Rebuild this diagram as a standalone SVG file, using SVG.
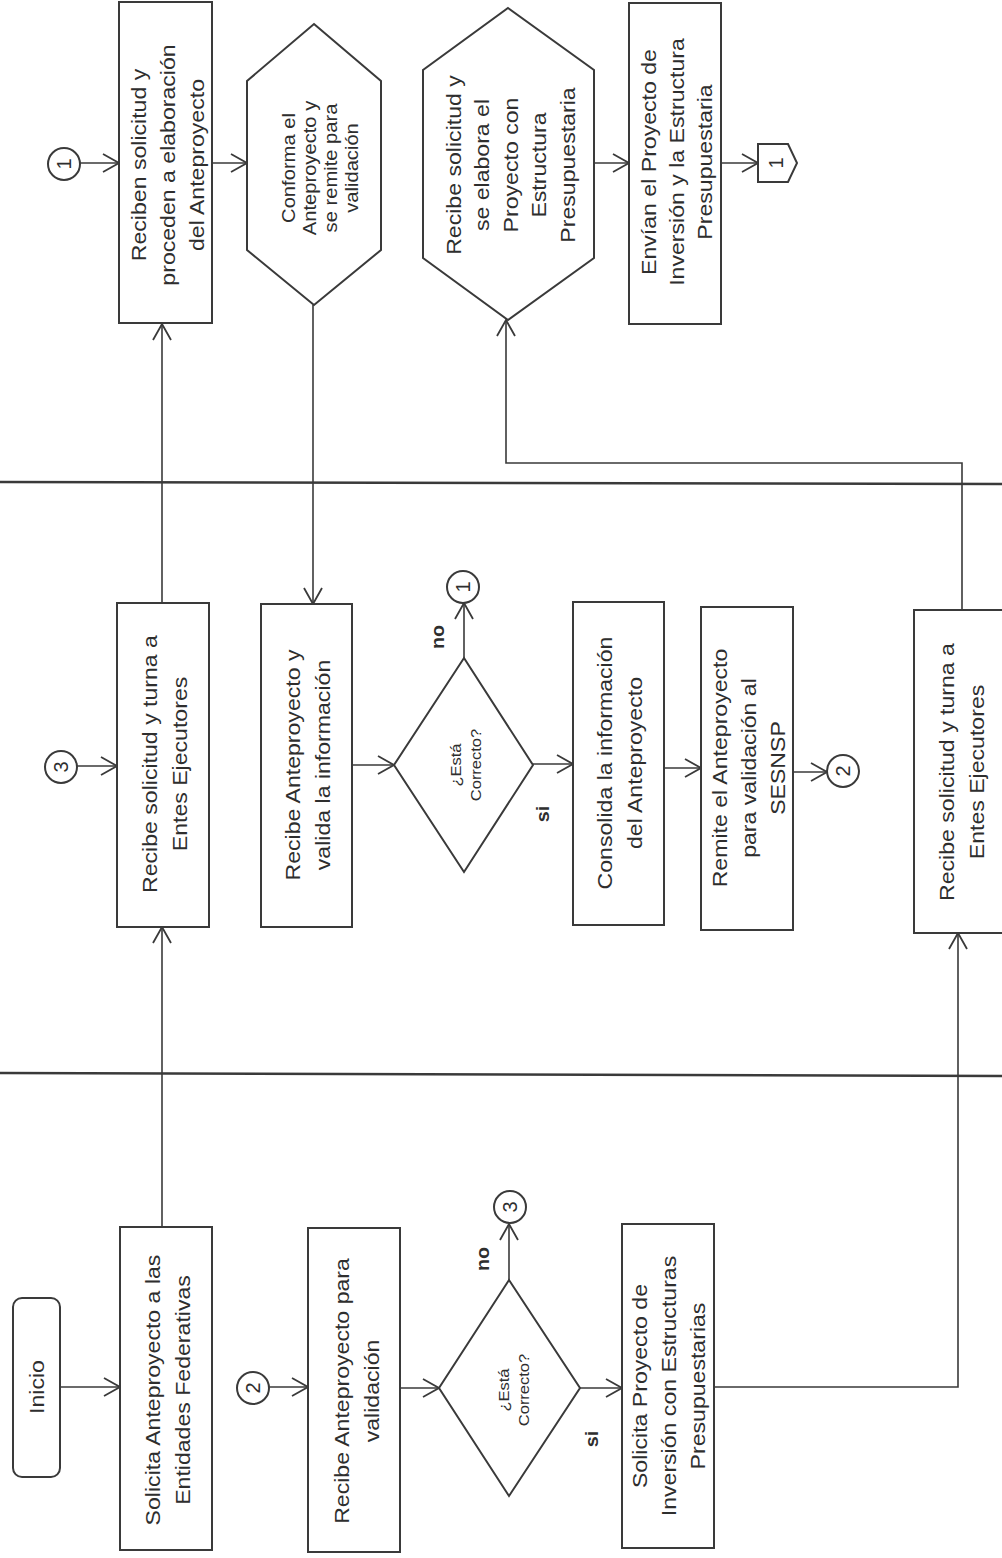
<svg xmlns="http://www.w3.org/2000/svg" width="1002" height="1558" viewBox="0 0 1002 1558">
<defs>
<style>
.bg{fill:#ffffff}
.box{fill:#ffffff;stroke:#3a3a3a;stroke-width:2}
.lane{stroke:#3a3a3a;stroke-width:2.5;fill:none}
.con{stroke:#3a3a3a;stroke-width:1.6;fill:none;marker-end:url(#arr)}
.t{font-family:"Liberation Sans",Arial,sans-serif;font-size:21px;fill:#2e2e2e;text-anchor:middle;dominant-baseline:central}
.s{font-family:"Liberation Sans",Arial,sans-serif;font-size:15px;fill:#2e2e2e;text-anchor:middle;dominant-baseline:central}
.h{font-family:"Liberation Sans",Arial,sans-serif;font-size:18px;fill:#2e2e2e;text-anchor:middle;dominant-baseline:central}
.b{font-family:"Liberation Sans",Arial,sans-serif;font-size:18px;font-weight:bold;fill:#2e2e2e;text-anchor:middle;dominant-baseline:central}
.n{font-family:"Liberation Sans",Arial,sans-serif;font-size:20px;fill:#2e2e2e;text-anchor:middle;dominant-baseline:central}
</style>
<marker id="arr" viewBox="0 0 18 20" refX="17" refY="10" markerWidth="18" markerHeight="20" markerUnits="userSpaceOnUse" orient="auto">
<path d="M1,1 L17,10 L1,19" fill="none" stroke="#3a3a3a" stroke-width="1.8"/>
</marker>
</defs>
<rect class="bg" x="0" y="0" width="1002" height="1558"/>
<g id="lanes">
<line class="lane" x1="0" y1="482" x2="1002" y2="484"/>
<line class="lane" x1="0" y1="1073" x2="1002" y2="1076"/>
</g>
<g id="connectors">
<path class="con" d="M60,1387 L120,1387"/>
<path class="con" d="M162,1227 L162,927"/>
<path class="con" d="M162,603 L162,324"/>
<path class="con" d="M80,163 L119,163"/>
<path class="con" d="M212,163 L247,163"/>
<path class="con" d="M313,305 L313,604"/>
<path class="con" d="M77,766 L117,766"/>
<path class="con" d="M352,765 L394,765"/>
<path class="con" d="M464,658 L464,603"/>
<path class="con" d="M533,764 L573,764"/>
<path class="con" d="M664,768 L701,768"/>
<path class="con" d="M793,772 L827,772"/>
<path class="con" d="M962,610 L962,463 L506,463 L506,320"/>
<path class="con" d="M594,163 L629,163"/>
<path class="con" d="M721,163 L758,163"/>
<path class="con" d="M269,1387 L308,1387"/>
<path class="con" d="M400,1388 L439,1388"/>
<path class="con" d="M509,1280 L509,1224"/>
<path class="con" d="M580,1388 L622,1388"/>
<path class="con" d="M714,1387 L958,1387 L958,933"/>
</g>
<g id="inicio">
<rect class="box" x="13" y="1298" width="47" height="179" rx="9"/>
<text class="t" transform="translate(37,1387) rotate(-90) scale(1.1,1)">Inicio</text>
</g>
<g id="solicitaAnteproyecto">
<rect class="box" x="120" y="1227" width="92" height="323"/>
<text class="t" transform="translate(167,1390) rotate(-90) scale(1.1,1)"><tspan x="0" y="-15">Solicita Anteproyecto a las</tspan><tspan x="0" y="15">Entidades Federativas</tspan></text>
</g>
<g id="conector2b">
<circle class="box" cx="253" cy="1388" r="16"/>
<text class="n" transform="translate(253,1388) rotate(-90)">2</text>
</g>
<g id="recibeValidacion">
<rect class="box" x="308" y="1228" width="92" height="324"/>
<text class="t" transform="translate(356,1391) rotate(-90) scale(1.1,1)"><tspan x="0" y="-15">Recibe Anteproyecto para</tspan><tspan x="0" y="15">validación</tspan></text>
</g>
<g id="decision1">
<polygon class="box" points="509,1280 580,1388 509,1496 439,1388"/>
<text class="s" transform="translate(513,1390) rotate(-90) scale(1.1,1)"><tspan x="0" y="-10">¿Está</tspan><tspan x="0" y="10">Correcto?</tspan></text>
<text class="b" transform="translate(483,1259) rotate(-90) scale(1.1,1)">no</text>
<text class="b" transform="translate(592,1439) rotate(-90) scale(1.1,1)">si</text>
</g>
<g id="conector3b">
<circle class="box" cx="510" cy="1207" r="16"/>
<text class="n" transform="translate(510,1207) rotate(-90)">3</text>
</g>
<g id="solicitaProyecto">
<rect class="box" x="622" y="1224" width="92" height="324"/>
<text class="t" transform="translate(668,1386) rotate(-90) scale(1.1,1)"><tspan x="0" y="-29">Solicita Proyecto de</tspan><tspan x="0" y="0">Inversión con Estructuras</tspan><tspan x="0" y="29">Presupuestarias</tspan></text>
</g>
<g id="conector3a">
<circle class="box" cx="61" cy="767" r="16"/>
<text class="n" transform="translate(61,767) rotate(-90)">3</text>
</g>
<g id="recibeTurna1">
<rect class="box" x="117" y="603" width="92" height="324"/>
<text class="t" transform="translate(164,764) rotate(-90) scale(1.1,1)"><tspan x="0" y="-15">Recibe solicitud y turna a</tspan><tspan x="0" y="15">Entes Ejecutores</tspan></text>
</g>
<g id="recibeValida">
<rect class="box" x="261" y="604" width="91" height="323"/>
<text class="t" transform="translate(307,765) rotate(-90) scale(1.1,1)"><tspan x="0" y="-15">Recibe Anteproyecto y</tspan><tspan x="0" y="15">valida la información</tspan></text>
</g>
<g id="decision2">
<polygon class="box" points="464,658 533,765 464,872 394,765"/>
<text class="s" transform="translate(465,765) rotate(-90) scale(1.1,1)"><tspan x="0" y="-10">¿Está</tspan><tspan x="0" y="10">Correcto?</tspan></text>
<text class="b" transform="translate(438,637) rotate(-90) scale(1.1,1)">no</text>
<text class="b" transform="translate(543,814) rotate(-90) scale(1.1,1)">si</text>
</g>
<g id="conector1b">
<circle class="box" cx="463" cy="587" r="16"/>
<text class="n" transform="translate(463,587) rotate(-90)">1</text>
</g>
<g id="consolida">
<rect class="box" x="573" y="602" width="91" height="323"/>
<text class="t" transform="translate(619,763) rotate(-90) scale(1.1,1)"><tspan x="0" y="-15">Consolida la información</tspan><tspan x="0" y="15">del Anteproyecto</tspan></text>
</g>
<g id="remite">
<rect class="box" x="701" y="607" width="92" height="323"/>
<text class="t" transform="translate(748,768) rotate(-90) scale(1.1,1)"><tspan x="0" y="-29">Remite el Anteproyecto</tspan><tspan x="0" y="0">para validación al</tspan><tspan x="0" y="29">SESNSP</tspan></text>
</g>
<g id="conector2a">
<circle class="box" cx="843" cy="771" r="16"/>
<text class="n" transform="translate(843,771) rotate(-90)">2</text>
</g>
<g id="recibeTurna2">
<rect class="box" x="914" y="610" width="92" height="323"/>
<text class="t" transform="translate(961,772) rotate(-90) scale(1.1,1)"><tspan x="0" y="-15">Recibe solicitud y turna a</tspan><tspan x="0" y="15">Entes Ejecutores</tspan></text>
</g>
<g id="conector1a">
<circle class="box" cx="64" cy="164" r="16"/>
<text class="n" transform="translate(64,164) rotate(-90)">1</text>
</g>
<g id="reciben">
<rect class="box" x="119" y="2" width="93" height="321"/>
<text class="t" transform="translate(167,165) rotate(-90) scale(1.1,1)"><tspan x="0" y="-29">Reciben solicitud y</tspan><tspan x="0" y="0">proceden a elaboración</tspan><tspan x="0" y="29">del Anteproyecto</tspan></text>
</g>
<g id="conforma">
<polygon class="box" points="314,24 381,81 381,250 314,305 247,250 247,81"/>
<text class="h" transform="translate(320,168) rotate(-90) scale(1.12,1)"><tspan x="0" y="-31.5">Conforma el</tspan><tspan x="0" y="-10.5">Anteproyecto y</tspan><tspan x="0" y="10.5">se remite para</tspan><tspan x="0" y="31.5">validación</tspan></text>
</g>
<g id="elabora">
<polygon class="box" points="508,8 594,70 594,258 508,320 423,258 423,70"/>
<text class="t" transform="translate(510,165) rotate(-90) scale(1.1,1)"><tspan x="0" y="-57">Recibe solicitud y</tspan><tspan x="0" y="-28.5">se elabora el</tspan><tspan x="0" y="0">Proyecto con</tspan><tspan x="0" y="28.5">Estructura</tspan><tspan x="0" y="57">Presupuestaria</tspan></text>
</g>
<g id="envian">
<rect class="box" x="629" y="3" width="92" height="321"/>
<text class="t" transform="translate(676,162) rotate(-90) scale(1.1,1)"><tspan x="0" y="-28">Envían el Proyecto de</tspan><tspan x="0" y="0">Inversión y la Estructura</tspan><tspan x="0" y="28">Presupuestaria</tspan></text>
</g>
<g id="paginaSiguiente">
<polygon class="box" points="758,144 788,144 797,163 788,182 758,182"/>
<text class="n" transform="translate(776,163) rotate(-90)">1</text>
</g>
</svg>
